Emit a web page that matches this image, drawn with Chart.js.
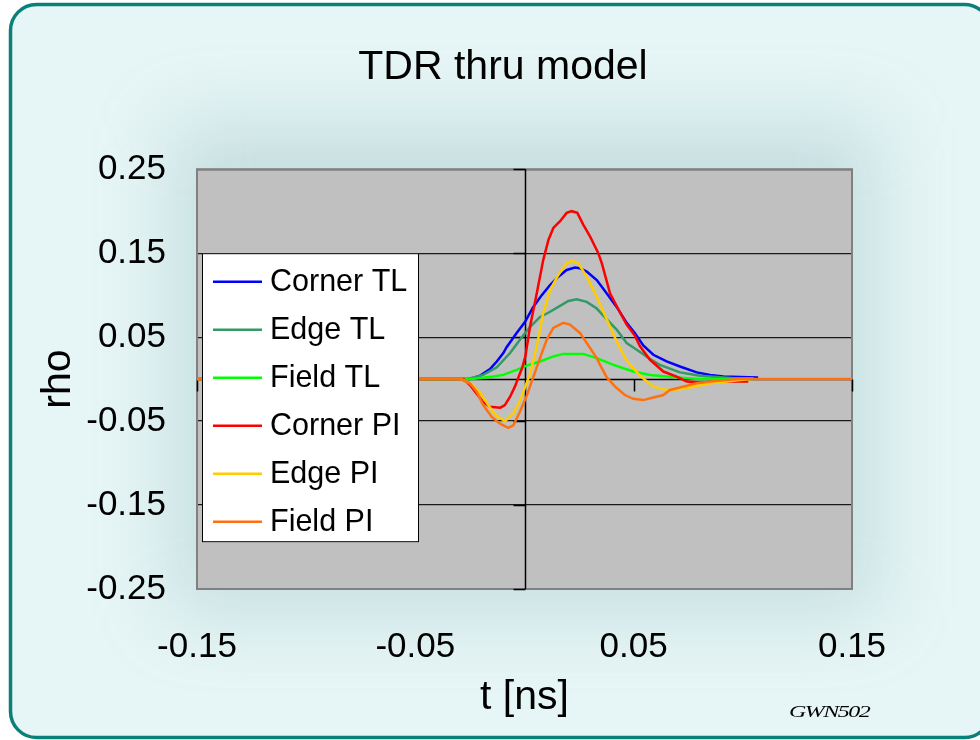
<!DOCTYPE html>
<html>
<head>
<meta charset="utf-8">
<title>TDR thru model</title>
<script src="https://cdn.jsdelivr.net/npm/chart.js@4/dist/chart.umd.min.js"></script>
<style>
  html, body { margin: 0; padding: 0; background: #ffffff; }
  canvas { display: block; }
</style>
</head>
<body>
<canvas id="tdr" width="980" height="740"></canvas>
<script>
// Series names and line colours, in legend order
const seriesNames  = ['Corner TL', 'Edge TL', 'Field TL', 'Corner PI', 'Edge PI', 'Field PI'];
const seriesColors = ['#0000FF', '#339966', '#00FF00', '#FF0000', '#FFCC00', '#FF7010'];

// Reflection coefficient rho versus time t [ns], as [t, rho] pairs
const cornerTL = [[-0.15,0],[-0.025,0],[-0.0204,0.004],[-0.0158,0.012],[-0.0127,0.021],[-0.0097,0.031],
  [-0.0082,0.038],[-0.0036,0.055],[0.0002,0.068],[0.004,0.086],[0.0079,0.100],[0.0117,0.112],
  [0.0155,0.122],[0.0193,0.130],[0.0231,0.133],[0.0254,0.132],[0.0285,0.128],[0.0331,0.118],
  [0.0377,0.102],[0.0422,0.086],[0.0468,0.067],[0.0505,0.055],[0.0544,0.040],[0.059,0.029],
  [0.0651,0.021],[0.0712,0.015],[0.0789,0.008],[0.085,0.005],[0.0911,0.003],[0.0987,0.0024],[0.107,0.002]];

const edgeTL = [[-0.15,0],[-0.0265,0],[-0.0189,0.005],[-0.0127,0.014],[-0.0066,0.031],[-0.0021,0.047],
  [0.0025,0.062],[0.0071,0.074],[0.0109,0.079],[0.0155,0.086],[0.0201,0.093],[0.0239,0.095],
  [0.0285,0.092],[0.0331,0.084],[0.0377,0.071],[0.0422,0.059],[0.0468,0.043],[0.0514,0.035],
  [0.0575,0.024],[0.062,0.017],[0.0712,0.008],[0.0804,0.004],[0.088,0.0024],[0.0957,0.001],[0.105,0.001]];

const fieldTL = [[-0.15,0],[-0.024,0],[-0.0143,0.003],[-0.0097,0.005],[-0.0036,0.011],[0.001,0.016],
  [0.0071,0.021],[0.0132,0.027],[0.0178,0.030],[0.0269,0.030],[0.0331,0.025],[0.0407,0.017],
  [0.0498,0.009],[0.0575,0.005],[0.0651,0.003],[0.0743,0.001],[0.08,0],[0.105,0]];

const cornerPI = [[-0.15,0],[-0.028,0],[-0.025,-0.007],[-0.022,-0.017],[-0.019,-0.027],[-0.016,-0.033],
  [-0.011,-0.034],[-0.009,-0.031],[-0.0066,-0.021],[-0.0044,-0.009],[-0.0025,0.004],[-0.001,0.014],
  [0.0004,0.027],[0.0025,0.062],[0.0056,0.102],[0.0086,0.142],[0.011,0.166],[0.0132,0.180],
  [0.0163,0.188],[0.0193,0.198],[0.0216,0.200],[0.0242,0.198],[0.0269,0.184],[0.030,0.170],
  [0.0338,0.150],[0.0354,0.138],[0.0392,0.102],[0.043,0.083],[0.0468,0.065],[0.0505,0.052],
  [0.0529,0.039],[0.0575,0.023],[0.0636,0.009],[0.0697,0.003],[0.0743,-0.003],[0.0804,-0.004],
  [0.088,-0.003],[0.0957,-0.003],[0.1025,-0.003]];

const edgePI = [[-0.15,0],[-0.029,0],[-0.025,-0.005],[-0.0204,-0.016],[-0.0158,-0.034],[-0.0127,-0.044],
  [-0.0089,-0.050],[-0.0051,-0.041],[-0.002,-0.025],[0.0002,-0.010],[0.0025,0.006],[0.0056,0.039],
  [0.0086,0.079],[0.0117,0.106],[0.0155,0.124],[0.0193,0.138],[0.0216,0.141],[0.0246,0.138],
  [0.0285,0.122],[0.0331,0.098],[0.0377,0.071],[0.0422,0.045],[0.0468,0.022],[0.0529,0.004],
  [0.059,-0.009],[0.0651,-0.013],[0.0712,-0.012],[0.0773,-0.009],[0.085,-0.005],[0.0926,-0.003],
  [0.0987,-0.001],[0.104,0]];

const fieldPI = [[-0.15,0],[-0.0295,0],[-0.025,-0.005],[-0.0219,-0.015],[-0.0189,-0.031],[-0.015,-0.045],
  [-0.0112,-0.053],[-0.0074,-0.058],[-0.0051,-0.055],[-0.0021,-0.039],[0.001,-0.020],[0.004,0.002],
  [0.0071,0.025],[0.0102,0.047],[0.0132,0.061],[0.0178,0.067],[0.0208,0.065],[0.0254,0.055],
  [0.0285,0.043],[0.0331,0.025],[0.0346,0.017],[0.0377,0.002],[0.0415,-0.009],[0.046,-0.019],
  [0.0498,-0.0235],[0.0544,-0.025],[0.059,-0.022],[0.0636,-0.019],[0.0666,-0.013],[0.0727,-0.009],
  [0.0789,-0.005],[0.085,-0.003],[0.0926,-0.001],[0.0987,0],[0.15,0]];

// Axis ticks and their labels
const xTicks      = [-0.15, -0.05, 0.05, 0.15];
const xTickLabels = ['-0.15', '-0.05', '0.05', '0.15'];
const yTicks      = [-0.25, -0.15, -0.05, 0.05, 0.15, 0.25];
const yTickLabels = ['-0.25', '-0.15', '-0.05', '0.05', '0.15', '0.25'];

const FONT = '"Liberation Sans", Arial, sans-serif';
const allSeries = [cornerTL, edgeTL, fieldTL, cornerPI, edgePI, fieldPI];

function labelFor(ticks, labels, v) {
  const i = ticks.findIndex(t => Math.abs(t - v) < 1e-9);
  return i >= 0 ? labels[i] : '';
}

// Slide-style backdrop: rounded teal frame, pale fill, soft shade around the plot, grey plot area
const backdrop = {
  id: 'backdrop',
  beforeDraw(chart) {
    const { ctx, chartArea: a } = chart;
    ctx.save();
    ctx.fillStyle = '#ffffff';
    ctx.fillRect(0, 0, chart.width, chart.height);
    const fx = 10.5, fy = 4.5, fw = 980, fh = 733, r = 26;
    ctx.beginPath();
    ctx.roundRect(fx, fy, fw, fh, r);
    ctx.fillStyle = '#e6f5f5';
    ctx.fill();
    ctx.save();
    ctx.clip();
    ctx.filter = 'blur(36px)';
    ctx.fillStyle = 'rgba(130,178,184,0.32)';
    ctx.fillRect(a.left - 25, a.top - 45, a.right - a.left + 50, a.bottom - a.top + 70);
    ctx.restore();
    ctx.lineWidth = 3.5;
    ctx.strokeStyle = '#0b7f7a';
    ctx.beginPath();
    ctx.roundRect(fx, fy, fw, fh, r);
    ctx.stroke();
    ctx.fillStyle = '#c0c0c0';
    ctx.fillRect(a.left, a.top, a.right - a.left, a.bottom - a.top);
    ctx.restore();
  }
};

// Plot frame plus axes crossing at the origin, with outward tick marks
const crossAxes = {
  id: 'crossAxes',
  beforeDatasetsDraw(chart) {
    const { ctx, chartArea: a, scales: { x, y } } = chart;
    const x0 = Math.round(x.getPixelForValue(0)) + 0.5;
    const y0 = Math.round(y.getPixelForValue(0)) + 0.5;
    ctx.save();
    ctx.strokeStyle = '#808080';
    ctx.lineWidth = 2;
    ctx.strokeRect(a.left, a.top, a.right - a.left, a.bottom - a.top);
    ctx.strokeStyle = '#000000';
    ctx.lineWidth = 1.5;
    ctx.beginPath();
    ctx.moveTo(x0, a.top); ctx.lineTo(x0, a.bottom);
    ctx.moveTo(a.left, y0); ctx.lineTo(a.right, y0);
    yTicks.forEach(v => {
      const py = Math.round(y.getPixelForValue(v)) + 0.5;
      ctx.moveTo(x0 - 12, py); ctx.lineTo(x0, py);
    });
    xTicks.forEach(v => {
      const px = Math.round(x.getPixelForValue(v)) + 0.5;
      ctx.moveTo(px, y0); ctx.lineTo(px, y0 + 12);
    });
    ctx.stroke();
    ctx.restore();
  }
};

// Boxed legend sitting inside the plot area
const legendBox = {
  id: 'legendBox',
  afterDatasetsDraw(chart) {
    const { ctx, chartArea: a } = chart;
    const bx = a.left + 5, by = a.top + 84, bw = 217, bh = 289;
    ctx.save();
    ctx.fillStyle = '#ffffff';
    ctx.fillRect(bx, by, bw, bh);
    ctx.strokeStyle = '#000000';
    ctx.lineWidth = 1;
    ctx.strokeRect(bx + 0.5, by + 0.5, bw - 1, bh - 1);
    ctx.font = '30.5px ' + FONT;
    ctx.textBaseline = 'middle';
    chart.data.datasets.forEach((ds, i) => {
      const ly = by + 28.5 + i * 48;
      ctx.strokeStyle = ds.borderColor;
      ctx.lineWidth = 2.5;
      ctx.beginPath();
      ctx.moveTo(bx + 11, ly); ctx.lineTo(bx + 60, ly);
      ctx.stroke();
      ctx.fillStyle = '#000000';
      ctx.fillText(ds.label, bx + 68, ly + 1);
    });
    ctx.restore();
  }
};

// Small author mark in the lower right corner
const authorMark = {
  id: 'authorMark',
  afterDraw(chart) {
    const { ctx } = chart;
    ctx.save();
    ctx.translate(789, 717);
    ctx.scale(1.5, 1);
    ctx.font = 'italic 16px "Liberation Serif", serif';
    ctx.fillStyle = '#000000';
    ctx.textBaseline = 'alphabetic';
    ctx.letterSpacing = '-1px';
    ctx.fillText('GWN502', 0, 0);
    ctx.restore();
  }
};

new Chart(document.getElementById('tdr'), {
  type: 'scatter',
  data: {
    datasets: allSeries.map((pts, i) => ({
      label: seriesNames[i],
      data: pts.map(p => ({ x: p[0], y: p[1] })),
      borderColor: seriesColors[i],
      backgroundColor: seriesColors[i],
      borderWidth: 2.5,
      showLine: true,
      pointRadius: 0,
      tension: 0,
      order: allSeries.length - i
    }))
  },
  options: {
    responsive: false,
    animation: false,
    devicePixelRatio: 1,
    layout: { padding: { left: 26, right: 0, top: 0, bottom: 0 } },
    plugins: {
      legend: { display: false },
      tooltip: { enabled: false },
      title: {
        display: true,
        text: 'TDR thru model',
        color: '#000000',
        font: { family: FONT, size: 41, weight: 'normal' },
        padding: { top: 43, bottom: 77 }
      }
    },
    scales: {
      x: {
        type: 'linear',
        min: -0.15, max: 0.15,
        afterBuildTicks: s => { s.ticks = xTicks.map(v => ({ value: v })); },
        afterFit: s => { s.height = 151; },
        grid: { display: false },
        border: { display: false },
        ticks: {
          color: '#000000',
          padding: 29,
          maxRotation: 0,
          font: { family: FONT, size: 35 },
          callback: v => labelFor(xTicks, xTickLabels, v)
        },
        title: {
          display: true,
          text: 't [ns]',
          color: '#000000',
          font: { family: FONT, size: 41 },
          padding: { top: 0, bottom: 18 }
        }
      },
      y: {
        type: 'linear',
        min: -0.25, max: 0.25,
        afterBuildTicks: s => { s.ticks = yTicks.map(v => ({ value: v })); },
        afterFit: s => { s.width = 171; },
        grid: { color: '#1a1a1a', lineWidth: 1.2, drawTicks: false },
        border: { display: false },
        ticks: {
          color: '#000000',
          padding: 31,
          font: { family: FONT, size: 35 },
          callback: v => labelFor(yTicks, yTickLabels, v)
        },
        title: {
          display: true,
          text: 'rho',
          color: '#000000',
          font: { family: FONT, size: 41 },
          padding: { top: 8, bottom: 0 }
        }
      },
      // empty margin box on the right side of the plot
      margin: {
        type: 'linear',
        position: 'right',
        display: true,
        afterFit: s => { s.width = 128; },
        grid: { display: false },
        border: { display: false },
        ticks: { display: false },
        title: { display: false }
      }
    }
  },
  plugins: [backdrop, crossAxes, legendBox, authorMark]
});
</script>
</body>
</html>
